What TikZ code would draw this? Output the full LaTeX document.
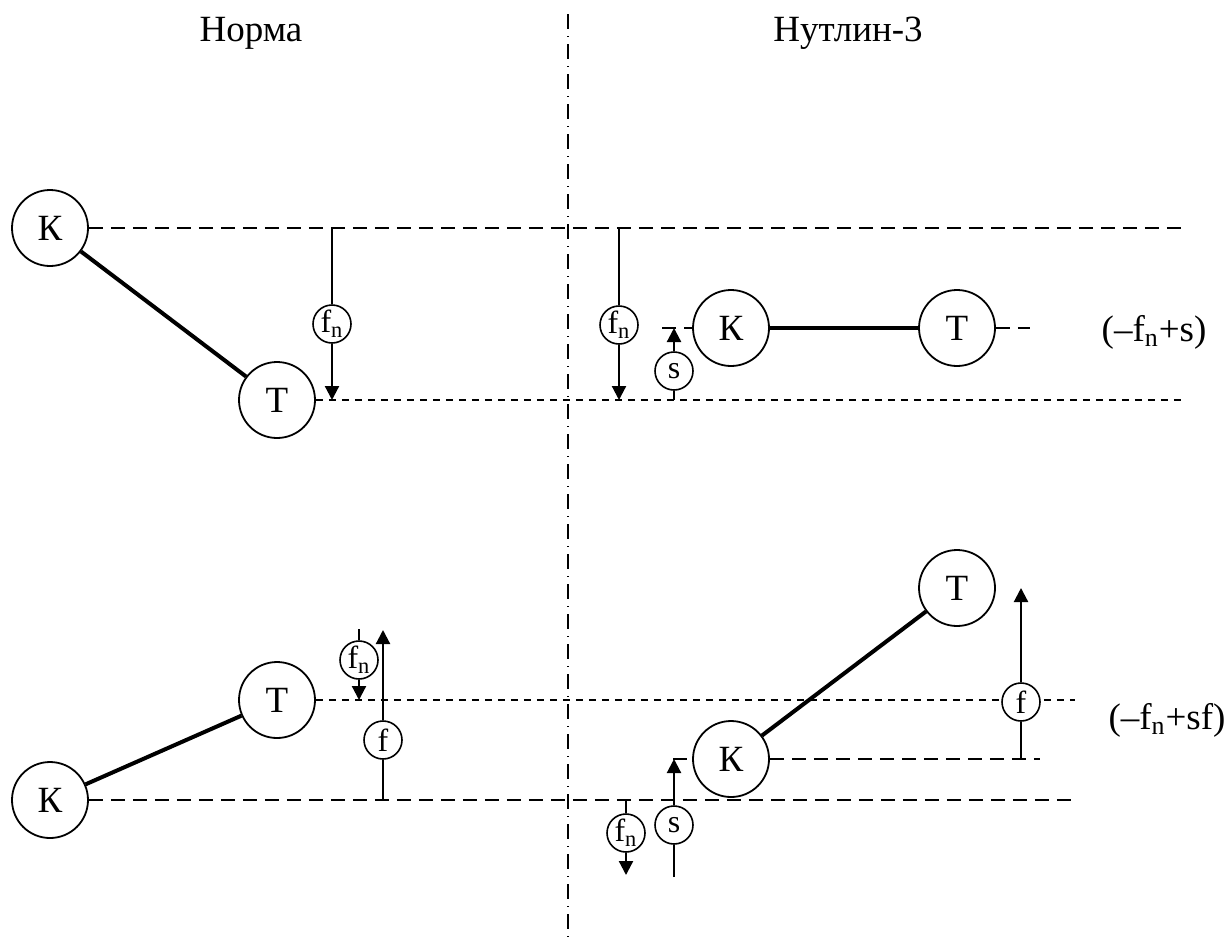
\documentclass[tikz,border=0pt]{standalone}
\usepackage{fontspec}
\setmainfont{Liberation Serif}
\usetikzlibrary{arrows.meta}
\begin{document}
\begin{tikzpicture}[x=0.5pt,y=-0.5pt,
  body/.style={circle,draw,line width=0.9pt,minimum size=38pt,inner sep=0pt,fill=white,
    font=\fontsize{18.5}{20}\selectfont},
  force/.style={circle,draw,line width=0.8pt,minimum size=19pt,inner sep=0pt,fill=white,
    font=\fontsize{16}{18}\selectfont},
  bond/.style={line width=2pt},
  longdash/.style={line width=0.9pt,dash pattern=on 7pt off 4pt},
  shortdash/.style={line width=0.9pt,dash pattern=on 3.5pt off 3pt},
  axis/.style={line width=0.6pt,dash pattern=on 7.5pt off 3.5pt on 0.5pt off 3.5pt},
  shaft/.style={line width=1.1pt},
  push/.style={line width=1.1pt,-{Triangle[length=7pt,width=7pt]}},
  title/.style={font=\fontsize{18.5}{20}\selectfont},
  result/.style={font=\fontsize{18.5}{20}\selectfont}]
\useasboundingbox (0,0) rectangle (1224,942);

% column separator
\coordinate (axtop) at (568,14);
\coordinate (axbot) at (568,942);
\draw[axis] (axtop) -- (axbot);

% headings
\node[title] (hnorm) at (251,33) {Норма};
\node[title] (hnut) at (848,33) {Нутлин-3};

% ---------- upper row ----------
% reference levels
\coordinate (ltopR) at (1185,228);
\coordinate (lbotR) at (1185,400);
\node[body] (K1) at (50,228) {К};
\node[body] (T1) at (277,400) {Т};
\draw[longdash] (K1.east) -- (ltopR);
\draw[shortdash] (T1.east) -- (lbotR);
\draw[bond] (K1) -- (T1);

% f_n, left
\coordinate (fa0) at (332,228);
\coordinate (fa1) at (332,400);
\node[force] (fn1) at (332,324) {f\textsubscript{n}};
\draw[shaft] (fa0) -- (fn1);
\draw[push] (fn1) -- (fa1);

% right side
\coordinate (fb0) at (619,228);
\coordinate (fb1) at (619,400);
\node[force] (fn2) at (619,325) {f\textsubscript{n}};
\draw[shaft] (fb0) -- (fn2);
\draw[push] (fn2) -- (fb1);

\node[body] (K2) at (731,328) {К};
\node[body] (T2) at (957,328) {Т};
\draw[bond] (K2) -- (T2);
\coordinate (k2l) at (662,328);
\coordinate (t2r) at (1030,328);
\draw[longdash] (k2l) -- (K2.west);
\draw[longdash] (T2.east) -- (t2r);

\coordinate (sa0) at (674,400);
\coordinate (sa1) at (674,328);
\node[force] (s1) at (674,371) {s};
\draw[shaft] (sa0) -- (s1);
\draw[push] (s1) -- (sa1);

\node[result] (r1) at (1154,332) {(–f\textsubscript{n}+s)};

% ---------- lower row ----------
\coordinate (mR) at (1075,700);
\coordinate (bR) at (1072,800);
\node[body] (K3) at (50,800) {К};
\node[body] (T3) at (277,700) {Т};
\draw[shortdash] (T3.east) -- (mR);
\draw[longdash] (K3.east) -- (bR);
\draw[bond] (K3) -- (T3);

% left forces
\coordinate (fc0) at (359,629);
\coordinate (fc1) at (359,700);
\node[force] (fn3) at (359,660) {f\textsubscript{n}};
\draw[shaft] (fc0) -- (fn3);
\draw[push] (fn3) -- (fc1);

\coordinate (ga0) at (383,800);
\coordinate (ga1) at (383,630);
\node[force] (f1) at (383,740) {f};
\draw[shaft] (ga0) -- (f1);
\draw[push] (f1) -- (ga1);

% right side
\node[body] (K4) at (731,759) {К};
\node[body] (T4) at (957,588) {Т};
\draw[bond] (K4) -- (T4);
\coordinate (k4l) at (673,759);
\coordinate (k4r) at (1040,759);
\draw[longdash] (k4l) -- (K4.west);
\draw[longdash] (K4.east) -- (k4r);

\coordinate (fd0) at (626,800);
\coordinate (fd1) at (626,875);
\node[force] (fn4) at (626,833) {f\textsubscript{n}};
\draw[shaft] (fd0) -- (fn4);
\draw[push] (fn4) -- (fd1);

\coordinate (sb0) at (674,877);
\coordinate (sb1) at (674,759);
\node[force] (s2) at (674,825) {s};
\draw[shaft] (sb0) -- (s2);
\draw[push] (s2) -- (sb1);

\coordinate (gb0) at (1021,759);
\coordinate (gb1) at (1021,588);
\node[force] (f2) at (1021,702) {f};
\draw[shaft] (gb0) -- (f2);
\draw[push] (f2) -- (gb1);

\node[result] (r2) at (1167,720) {(–f\textsubscript{n}+sf)};
\end{tikzpicture}
\end{document}
